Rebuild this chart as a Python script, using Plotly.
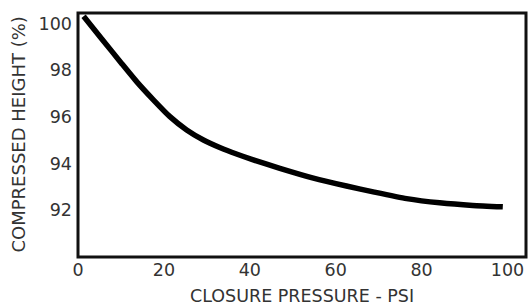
import plotly.graph_objects as go

pressure_psi = [1.3, 5.5, 10.2, 13.7, 17.6, 21.4, 25.3, 29.2, 33.0, 36.9, 40.8, 47.0, 54.8, 62.5, 69.0, 76.5, 84.2, 91.9, 98.9]
compressed_height = [100.31, 99.35, 98.28, 97.50, 96.72, 96.01, 95.44, 95.01, 94.69, 94.41, 94.16, 93.80, 93.38, 93.04, 92.78, 92.50, 92.32, 92.21, 92.15]
x_ticks = [0, 20, 40, 60, 80, 100]
y_ticks = [92, 94, 96, 98, 100]
x_title = "CLOSURE PRESSURE - PSI"
y_title = "COMPRESSED HEIGHT (%)"

tick_font = "'DejaVu Sans', sans-serif"
title_font = "'DejaVu Sans', sans-serif"
text_color = "#333333"

fig = go.Figure()
fig.add_trace(go.Scatter(
    x=pressure_psi, y=compressed_height, mode="lines",
    line=dict(color="black", width=5.5, shape="spline", smoothing=0.5),
    showlegend=False, hoverinfo="skip",
))

fig.update_layout(
    width=528, height=306,
    margin=dict(l=78, r=2, t=13, b=49, autoexpand=False),
    paper_bgcolor="white", plot_bgcolor="white",
    font=dict(family=tick_font, color=text_color, size=18),
    xaxis=dict(
        range=[0, 104.3], tickvals=x_ticks, ticktext=[str(v) for v in x_ticks],
        showgrid=False, zeroline=False, showline=False,
        ticks="", automargin=False,
        tickfont=dict(size=17.5, family=tick_font, color=text_color),
    ),
    yaxis=dict(
        range=[90, 100.45], tickvals=y_ticks, ticktext=[str(v) for v in y_ticks],
        showgrid=False, zeroline=False, showline=False,
        ticks="", automargin=False,
        ticklabelstandoff=5,
        tickfont=dict(size=17.5, family=tick_font, color=text_color),
    ),
    shapes=[
        dict(type="rect", xref="paper", yref="paper", x0=0, y0=0, x1=1, y1=1,
             line=dict(color="#111111", width=3), fillcolor="rgba(0,0,0,0)", layer="above"),
    ],
    annotations=[
        dict(text=x_title, xref="paper", yref="paper", x=0.5, y=-0.158,
             xanchor="center", yanchor="middle", showarrow=False,
             font=dict(size=17.5, family=title_font, color=text_color)),
        dict(text=y_title, xref="paper", yref="paper", x=-0.135, y=0.5,
             xanchor="center", yanchor="middle", showarrow=False, textangle=-90,
             font=dict(size=18, family=title_font, color=text_color)),
    ],
)

fig.write_html(
    "out.html",
    config={"displayModeBar": False},
    post_script="document.body.style.margin='0';document.body.style.padding='0';",
)
